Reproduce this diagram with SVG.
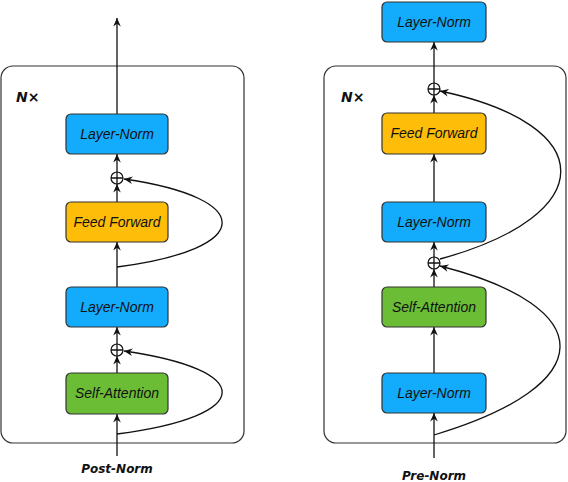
<svg xmlns="http://www.w3.org/2000/svg" width="568" height="482" viewBox="0 0 568 482">
<defs>
<marker id="ah" markerWidth="12" markerHeight="10" viewBox="-10 -5 12 10" refX="0" refY="0" orient="auto" markerUnits="userSpaceOnUse">
<path d="M0,0 L-8.5,-3.8 L-5.8,0 L-8.5,3.8 Z" fill="#111"/>
</marker>
<style>
.frame{fill:#fff;stroke:#333;stroke-width:1.2}
.box{stroke:#333;stroke-width:1.2}
.ln{fill:#13abfb}
.ff{fill:#fdbd08}
.sa{fill:#6bbd36}
.lbl{font-family:"Liberation Sans",Arial,sans-serif;font-style:italic;font-size:14px;fill:#111;text-anchor:middle}
.cap{font-family:"DejaVu Sans",sans-serif;font-style:italic;font-weight:bold;font-size:12px;fill:#111;text-anchor:middle}
.nx{font-family:"DejaVu Sans",sans-serif;font-style:italic;font-weight:bold;font-size:14px;fill:#111}
.c{fill:none;stroke:#111;stroke-width:1.3}
.a{marker-end:url(#ah)}
.add{fill:#fff;stroke:#111;stroke-width:1.2}
</style>
</defs>
<rect class="frame" x="1" y="66" width="243" height="377" rx="12"/>
<rect class="frame" x="324" y="66" width="242" height="377" rx="12"/>
<text class="nx" x="16" y="102">N×</text>
<text class="nx" x="341" y="102">N×</text>
<g id="connectors">
<path class="c a" d="M117,456 V414"/>
<path class="c a" d="M117,373 V356"/>
<path class="c a" d="M117,344 V327"/>
<path class="c a" d="M117,434 C256,416 256,370 124,351"/>
<path class="c a" d="M117,287 V242"/>
<path class="c a" d="M117,267 C256,249 256,198 124,179"/>
<path class="c a" d="M117,202 V184"/>
<path class="c a" d="M117,172 V154"/>
<path class="c a" d="M117,114 V18"/>
<path class="c a" d="M434,458 V413"/>
<path class="c a" d="M434,373 V327"/>
<path class="c a" d="M434,287 V269"/>
<path class="c a" d="M434,435 C601,385 601,307 440,266"/>
<path class="c a" d="M434,257 V242"/>
<path class="c a" d="M434,202 V154"/>
<path class="c a" d="M434,113 V95"/>
<path class="c a" d="M440,259 C601,215 601,125 440,91"/>
<path class="c a" d="M434,83 V42"/>
</g>
<g id="add-l2"><circle class="add" cx="117" cy="178" r="6"/><path class="c" d="M111,178 H123 M117,172 V184"/></g>
<g id="add-l1"><circle class="add" cx="117" cy="350" r="6"/><path class="c" d="M111,350 H123 M117,344 V356"/></g>
<g id="add-r2"><circle class="add" cx="434" cy="89" r="6"/><path class="c" d="M428,89 H440 M434,83 V95"/></g>
<g id="add-r1"><circle class="add" cx="434" cy="263" r="6"/><path class="c" d="M428,263 H440 M434,257 V269"/></g>
<g id="l-ln2"><rect class="box ln" x="66" y="114" width="102" height="40" rx="5"/><text class="lbl" x="117" y="139">Layer-Norm</text></g>
<g id="l-ff"><rect class="box ff" x="66" y="202" width="102" height="40" rx="5"/><text class="lbl" x="117" y="227">Feed Forward</text></g>
<g id="l-ln1"><rect class="box ln" x="66" y="287" width="102" height="40" rx="5"/><text class="lbl" x="117" y="312">Layer-Norm</text></g>
<g id="l-sa"><rect class="box sa" x="66" y="373" width="102" height="41" rx="5"/><text class="lbl" x="117" y="398">Self-Attention</text></g>
<g id="r-lnf"><rect class="box ln" x="382" y="2" width="104" height="40" rx="5"/><text class="lbl" x="434" y="27">Layer-Norm</text></g>
<g id="r-ff"><rect class="box ff" x="382" y="113" width="104" height="41" rx="5"/><text class="lbl" x="434" y="138">Feed Forward</text></g>
<g id="r-ln2"><rect class="box ln" x="382" y="202" width="104" height="40" rx="5"/><text class="lbl" x="434" y="227">Layer-Norm</text></g>
<g id="r-sa"><rect class="box sa" x="382" y="287" width="104" height="40" rx="5"/><text class="lbl" x="434" y="312">Self-Attention</text></g>
<g id="r-ln1"><rect class="box ln" x="382" y="373" width="104" height="40" rx="5"/><text class="lbl" x="434" y="398">Layer-Norm</text></g>
<text class="cap" x="117" y="473">Post-Norm</text>
<text class="cap" x="434" y="480">Pre-Norm</text>
</svg>
